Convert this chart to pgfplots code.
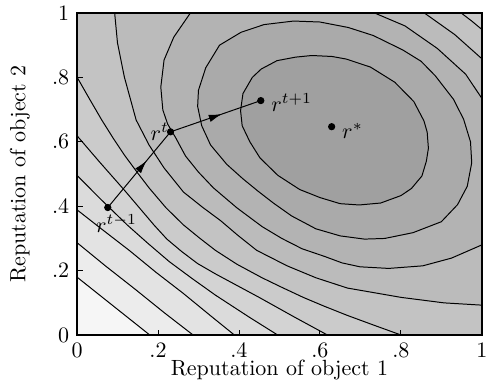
\documentclass[border=0pt]{standalone}
\usepackage{pgfplots}
\pgfplotsset{compat=1.18}
\usetikzlibrary{decorations.markings,arrows.meta}
\definecolor{c0}{gray}{0.627}
\definecolor{c1}{gray}{0.667}
\definecolor{c2}{gray}{0.702}
\definecolor{c3}{gray}{0.733}
\definecolor{c4}{gray}{0.765}
\definecolor{c5}{gray}{0.796}
\definecolor{c6}{gray}{0.827}
\definecolor{c7}{gray}{0.859}
\definecolor{c8}{gray}{0.890}
\definecolor{c9}{gray}{0.925}
\definecolor{c10}{gray}{0.965}
\begin{document}
\begin{tikzpicture}
\begin{axis}[name=ax, scale only axis, width=184pt, height=146.4pt,
  xmin=0, xmax=1, ymin=0, ymax=1,
  xtick={0,0.2,0.4,0.6,0.8,1}, xticklabels={$0$,$.2$,$.4$,$.6$,$.8$,$1$},
  ytick={0,0.2,0.4,0.6,0.8,1}, yticklabels={$0$,$.2$,$.4$,$.6$,$.8$,$1$},
  xtick pos=left, ytick pos=left, tick align=inside, major tick length=2.5pt,
  tick style={black, line width=0.4pt},
  axis on top, axis line style={line width=0.7pt},
  axis background/.style={fill=c10},
  xlabel={Reputation of object 1}, ylabel={Reputation of object 2},
  xlabel style={at={(axis description cs:0.5,-0.109)}, anchor=center},
  ylabel style={at={(axis description cs:-0.141,0.5)}, anchor=center},
  every axis plot/.append style={line width=0.45pt},
]
% contour regions, outermost first
\addplot[fill=c9, draw=black] coordinates {(0,0.180) (0.09,0.09) (0.180,0) (1,0) (1,1) (0,1)} -- cycle;
\addplot[fill=c8, draw=black] coordinates {(0,0.287) (0.07,0.215) (0.143,0.143) (0.215,0.07) (0.287,0) (1,0) (1,1) (0,1)} -- cycle;
\addplot[fill=c7, draw=black] coordinates {(0,0.389) (0.06,0.33) (0.13,0.262) (0.195,0.195) (0.262,0.13) (0.33,0.06) (0.389,0) (1,0) (1,1) (0,1)} -- cycle;
\addplot[fill=c6, draw=black] coordinates {(0,0.496) (0.056,0.425) (0.124,0.342) (0.175,0.285) (0.228,0.228) (0.285,0.175) (0.342,0.124) (0.425,0.056) (0.496,0) (1,0) (1,1) (0,1)} -- cycle;
\addplot[fill=c5, draw=black] coordinates {(0,0.619) (0.056,0.537) (0.117,0.450) (0.190,0.342) (0.222,0.298) (0.259,0.259) (0.298,0.222) (0.342,0.190) (0.450,0.117) (0.537,0.056) (0.619,0) (1,0) (1,1) (0,1)} -- cycle;
\addplot[fill=c4, draw=black] coordinates {(0,0.801) (0.030,0.735) (0.061,0.668) (0.090,0.610) (0.117,0.559) (0.150,0.503) (0.178,0.457) (0.220,0.395) (0.263,0.342) (0.302,0.302) (0.342,0.263) (0.395,0.220) (0.457,0.178) (0.503,0.150) (0.559,0.117) (0.610,0.090) (0.668,0.061) (0.735,0.030) (0.801,0) (1,0) (1,0.949) (0.975,0.975) (0.949,1) (0,1)} -- cycle;
\addplot[fill=c3, draw=black] coordinates {(0.093,1) (0.100,0.907) (0.117,0.801) (0.146,0.668) (0.178,0.590) (0.215,0.519) (0.263,0.444) (0.310,0.397) (0.355,0.355) (0.397,0.310) (0.444,0.263) (0.519,0.215) (0.590,0.178) (0.668,0.146) (0.801,0.117) (0.907,0.100) (1,0.093) (1,0.858) (0.933,0.933) (0.858,1)} -- cycle;
\addplot[fill=c2, draw=black] coordinates {(0.280,1) (0.239,0.925) (0.215,0.854) (0.207,0.770) (0.212,0.699) (0.224,0.655) (0.244,0.612) (0.268,0.556) (0.300,0.506) (0.337,0.457) (0.395,0.395) (0.457,0.337) (0.506,0.300) (0.556,0.268) (0.612,0.244) (0.655,0.224) (0.699,0.212) (0.770,0.207) (0.854,0.215) (0.925,0.239) (1,0.280) (1,0.735) (0.96,0.81) (0.89,0.89) (0.81,0.96) (0.735,1)} -- cycle;
\addplot[fill=c1, draw=black] coordinates {(0.447,0.447) (0.485,0.410) (0.530,0.370) (0.590,0.330) (0.650,0.308) (0.710,0.298) (0.760,0.300) (0.830,0.318) (0.900,0.352) (0.940,0.405) (0.964,0.462) (0.975,0.535) (0.972,0.600) (0.955,0.670) (0.930,0.732) (0.885,0.805) (0.850,0.850) (0.805,0.885) (0.732,0.930) (0.670,0.955) (0.600,0.972) (0.535,0.975) (0.462,0.964) (0.405,0.940) (0.352,0.900) (0.318,0.830) (0.300,0.760) (0.298,0.710) (0.308,0.650) (0.330,0.590) (0.370,0.530) (0.410,0.485)} -- cycle;
\addplot[fill=c0, draw=black] coordinates {(0.496,0.496) (0.550,0.452) (0.600,0.427) (0.650,0.408) (0.697,0.404) (0.750,0.410) (0.800,0.433) (0.826,0.455) (0.852,0.494) (0.863,0.540) (0.868,0.580) (0.865,0.630) (0.857,0.665) (0.832,0.725) (0.785,0.785) (0.725,0.832) (0.665,0.857) (0.630,0.865) (0.580,0.868) (0.540,0.863) (0.494,0.852) (0.455,0.826) (0.433,0.800) (0.410,0.750) (0.404,0.697) (0.408,0.650) (0.427,0.600) (0.452,0.550)} -- cycle;
% iteration path
\addplot[black, postaction={decorate}, decoration={markings, mark=at position 0.62 with {\arrow{Latex[length=6pt,width=3.4pt]}}}] coordinates {(0.076,0.396) (0.231,0.631)};
\addplot[black, postaction={decorate}, decoration={markings, mark=at position 0.57 with {\arrow{Latex[length=6pt,width=3.4pt]}}}] coordinates {(0.231,0.631) (0.454,0.728)};
\addplot[only marks, mark=*, mark size=1.4pt, black] coordinates {(0.076,0.396) (0.231,0.631) (0.454,0.728) (0.629,0.647)};
\node[anchor=center, xshift=4pt, yshift=-7.3pt] at (axis cs:0.076,0.396) {$r^{t-1}$};
\node[anchor=center, xshift=-4.9pt, yshift=0pt] at (axis cs:0.231,0.631) {$r^{t}$};
\node[anchor=center, xshift=14pt, yshift=-0.8pt] at (axis cs:0.454,0.728) {$r^{t+1}$};
\node[anchor=center, xshift=9.5pt, yshift=-2pt] at (axis cs:0.629,0.647) {$r^{*}$};
\end{axis}
\pgfresetboundingbox
\path[use as bounding box] ([shift={(-35pt,-22.7pt)}]ax.south west) rectangle ([shift={(2.8pt,5.9pt)}]ax.north east);
\end{tikzpicture}
\end{document}
